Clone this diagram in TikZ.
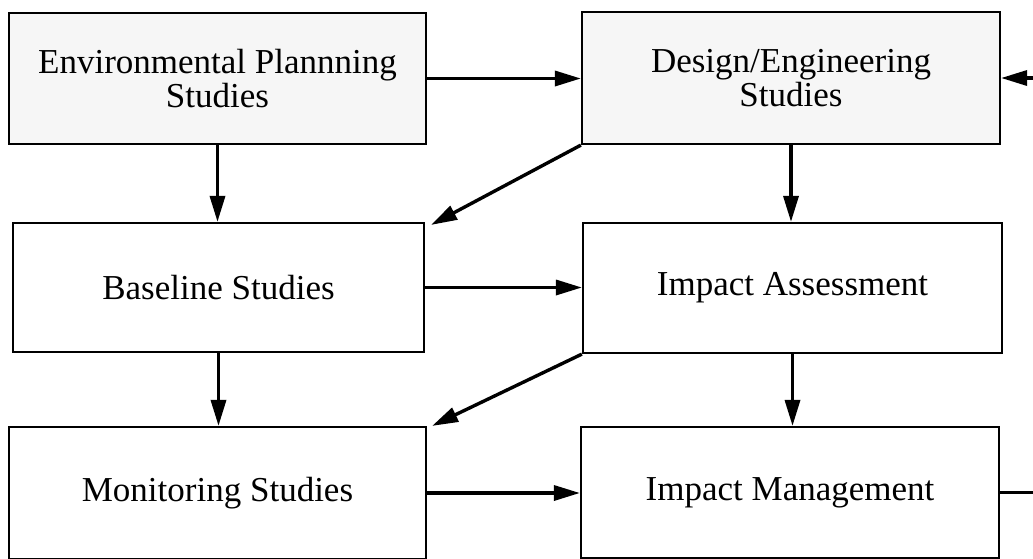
\documentclass[tikz,border=0pt]{standalone}
\usepackage{fontspec}
\setmainfont{Liberation Serif}
\usetikzlibrary{arrows.meta}
\begin{document}
\begin{tikzpicture}[x=1pt,y=-1pt,
  stagebox/.style={draw=black, line width=2.2pt, fill=white, align=center,
    font=\fontsize{35}{34}\selectfont, inner sep=0pt},
  shaded/.style={stagebox, fill=gray!7},
  flow/.style={line width=3.4pt, -{Triangle[length=26pt,width=15pt]}}]
\useasboundingbox (0,0) rectangle (1033,558);
\clip (0,0) rectangle (1033,558);
% planning stages
\node[shaded, minimum width=417pt, minimum height=131pt] (env) at (217.5,78.5)
  {Environmental Plannning\\Studies};
\node[shaded, minimum width=418pt, minimum height=132pt] (des) at (791,78)
  {Design/Engineering\\Studies};
% study and assessment stages
\node[stagebox, minimum width=411pt, minimum height=129pt] (base) at (218.5,287.5)
  {Baseline Studies};
\node[stagebox, minimum width=419pt, minimum height=130pt] (assess) at (792.5,288)
  {Impact Assessment};
\node[stagebox, minimum width=417pt, minimum height=132pt] (mon) at (217.5,493)
  {Monitoring Studies};
\node[stagebox, minimum width=418pt, minimum height=131pt] (mgmt) at (790,492.5)
  {Impact Management};
% connectors
\draw[flow] (env.east) -- (env.east -| des.west);
\draw[flow] (env.south) -- (env.south |- base.north);
\draw[flow] (des.south west) -- ([shift={(6pt,-3pt)}]base.north east);
\draw[flow] (des.south) -- (des.south |- assess.north);
\draw[flow] (base.east) -- (base.east -| assess.west);
\draw[flow] (base.south) -- (base.south |- mon.north);
\draw[flow] (assess.south west) -- ([shift={(5pt,0pt)}]mon.north east);
\draw[flow] (assess.south) -- (assess.south |- mgmt.north);
\draw[flow] (mon.east) -- (mon.east -| mgmt.west);
% feedback loop running out past the right margin
\coordinate (loop) at (1080,492.5);
\draw[flow] (mgmt.east) -- (loop) |- (des.east);
\end{tikzpicture}
\end{document}
